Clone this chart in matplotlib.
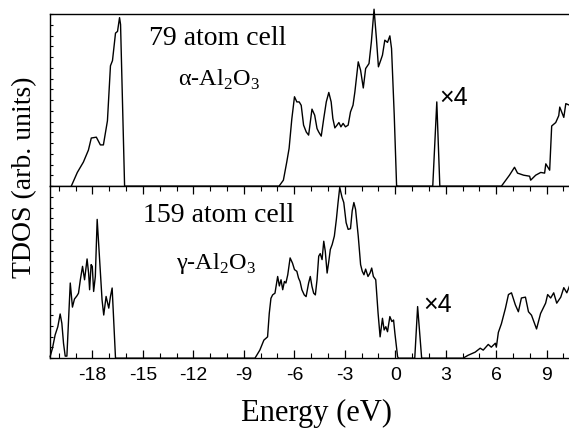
import numpy as np
import matplotlib
matplotlib.use("Agg")
import matplotlib.pyplot as plt
from matplotlib.ticker import MultipleLocator, NullFormatter

# alpha-Al2O3, 79 atom cell (top panel)
alpha_e = [-19.26, -18.9, -18.54, -18.24, -18.07, -17.77, -17.53, -17.35, -17.11,
           -16.93, -16.81, -16.63, -16.51, -16.39, -16.33, -16.09,
           -6.91, -6.65, -6.45, -6.31, -6.15, -5.99, -5.85, -5.71, -5.59, -5.45,
           -5.29, -5.15, -4.95, -4.79, -4.65, -4.55, -4.40, -4.25, -4.10, -3.95,
           -3.81, -3.71, -3.59, -3.46, -3.35, -3.23, -3.10, -2.96, -2.80, -2.66,
           -2.51, -2.40, -2.20, -2.06, -1.90, -1.76, -1.56, -1.42, -1.26, -1.12,
           -1.00, -0.86, -0.76, -0.62, -0.46, -0.32, -0.22, -0.06, 0.08, 0.20,
           2.23, 2.47, 2.65,
           6.31, 6.79, 7.09, 7.27, 7.63, 7.99, 8.05, 8.35, 8.65, 8.88, 8.95, 9.18,
           9.30, 9.54, 9.72, 9.78, 10.02, 10.14, 10.38, 10.56]
alpha_d = [0.0, 0.08, 0.14, 0.21, 0.28, 0.285, 0.24, 0.24, 0.38,
           0.70, 0.73, 0.89, 0.90, 0.98, 0.94, 0.0,
           0.0, 0.035, 0.14, 0.22, 0.39, 0.52, 0.49, 0.49, 0.47, 0.355,
           0.315, 0.297, 0.448, 0.413, 0.335, 0.315, 0.291, 0.394, 0.49, 0.545,
           0.49, 0.394, 0.339, 0.355, 0.37, 0.345, 0.365, 0.345, 0.355, 0.432,
           0.471, 0.548, 0.723, 0.674, 0.571, 0.684, 0.713, 0.839, 1.029, 0.859,
           0.694, 0.733, 0.762, 0.849, 0.836, 0.874, 0.80, 0.413, 0.002, 0.0,
           0.0, 0.49, 0.0,
           0.0, 0.064, 0.11, 0.076, 0.064, 0.058, 0.035, 0.064, 0.08, 0.076, 0.13, 0.093,
           0.35, 0.37, 0.41, 0.46, 0.40, 0.48, 0.47, 0.41]

# gamma-Al2O3, 159 atom cell (bottom panel)
gamma_e = [-20.52, -20.38, -20.22, -20.06, -19.92, -19.82, -19.72, -19.62, -19.52,
           -19.43, -19.32, -19.19, -19.07, -18.92, -18.83, -18.72, -18.59, -18.47,
           -18.32, -18.23, -18.17, -18.08, -18.01, -17.93, -17.83, -17.72, -17.59,
           -17.43, -17.33, -17.19, -17.03, -16.93, -16.83, -16.73, -16.63,
           -8.34, -8.05, -7.81, -7.69, -7.59, -7.49, -7.39, -7.29, -7.15, -6.99,
           -6.89, -6.79, -6.69, -6.59, -6.50, -6.39, -6.25, -6.11, -5.99, -5.85,
           -5.75, -5.66, -5.55, -5.41, -5.30, -5.15, -5.05, -4.95, -4.85, -4.75,
           -4.65, -4.55, -4.46, -4.35, -4.25, -4.16, -4.05, -3.95, -3.86, -3.75,
           -3.62, -3.50, -3.40, -3.30, -3.16, -3.06, -2.92, -2.80, -2.66, -2.56,
           -2.46, -2.36, -2.20, -2.06, -1.96, -1.86, -1.76, -1.62, -1.50, -1.40,
           -1.30, -1.16, -1.02, -0.90, -0.76, -0.66, -0.56, -0.46, -0.32, -0.20,
           -0.10, -0.02, 0.14, 0.20,
           1.16, 1.33, 1.57,
           4.03, 4.33, 4.75, 5.05, 5.23, 5.53, 5.71, 5.95, 6.01, 6.13, 6.31, 6.55,
           6.73, 6.91, 7.14, 7.32, 7.50, 7.74, 7.92, 8.10, 8.40, 8.64, 8.94, 9.06,
           9.24, 9.42, 9.60, 9.84, 10.02, 10.20, 10.44, 10.56]
gamma_d = [0.008, 0.057, 0.135, 0.183, 0.257, 0.203, 0.086, 0.012, 0.012,
           0.203, 0.437, 0.297, 0.344, 0.363, 0.378, 0.456, 0.534, 0.456,
           0.577, 0.495, 0.398, 0.544, 0.534, 0.388, 0.475, 0.807, 0.593,
           0.339, 0.251, 0.359, 0.291, 0.359, 0.408, 0.203, 0.0,
           0.0, 0.047, 0.105, 0.115, 0.124, 0.26, 0.348, 0.368, 0.378, 0.475,
           0.42, 0.456, 0.398, 0.446, 0.437, 0.485, 0.583, 0.553, 0.515, 0.505,
           0.466, 0.446, 0.398, 0.368, 0.358, 0.437, 0.475, 0.417, 0.378, 0.368,
           0.456, 0.593, 0.608, 0.573, 0.68, 0.622, 0.495, 0.563, 0.632, 0.661,
           0.71, 0.807, 0.905, 0.993, 0.934, 0.905, 0.788, 0.749, 0.753, 0.856,
           0.905, 0.866, 0.71, 0.544, 0.505, 0.485, 0.518, 0.475, 0.495, 0.524,
           0.475, 0.456, 0.261, 0.124, 0.232, 0.164, 0.183, 0.154, 0.242, 0.213,
           0.222, 0.144, 0.008, 0.0,
           0.0, 0.30, 0.0,
           0.0, 0.017, 0.035, 0.058, 0.047, 0.08, 0.064, 0.087, 0.064, 0.15, 0.20, 0.29,
           0.37, 0.38, 0.31, 0.27, 0.35, 0.355, 0.27, 0.25, 0.17, 0.26, 0.32, 0.37,
           0.35, 0.38, 0.32, 0.355, 0.41, 0.38, 0.44, 0.47]

xticks = [-18, -15, -12, -9, -6, -3, 0, 3, 6, 9]

serif = "Liberation Serif"
sans = "Liberation Sans"

fig = plt.figure(figsize=(5.69, 4.30), dpi=100)
ax1 = fig.add_axes([0.088, 0.567, 0.92, 0.40])
ax2 = fig.add_axes([0.088, 0.167, 0.92, 0.40], sharex=ax1)

for ax, e, d in [(ax1, alpha_e, alpha_d), (ax2, gamma_e, gamma_d)]:
    ax.plot(e, d, color="black", lw=1.0, clip_on=False)
    ax.set_ylim(0, 1)
    ax.set_xlim(-20.52, 10.6)
    ax.spines["right"].set_visible(False)
    ax.yaxis.set_major_locator(MultipleLocator(1 / 16))
    ax.yaxis.set_major_formatter(NullFormatter())
    ax.tick_params(axis="y", direction="in", length=2.5, width=0.8)
    for s in ax.spines.values():
        s.set_linewidth(1.0)

ax1.tick_params(axis="x", bottom=False, labelbottom=False, top=False)
ax2.xaxis.set_minor_locator(MultipleLocator(1))
ax2.set_xticks(xticks)
ax2.set_xticklabels([str(t) for t in xticks], fontfamily=sans, fontsize=14)
ax2.tick_params(axis="x", which="major", direction="in", length=6, width=0.9,
                top=True, pad=6)
ax2.tick_params(axis="x", which="minor", direction="in", length=3.5, width=0.8,
                top=True)

sub = r"$\mathregular{%s}$-Al$_\mathregular{2}$O$_\mathregular{3}$"
ax1.text(-14.65, 0.86, "79 atom cell", family=serif, fontsize=20, va="center")
ax1.text(-12.9, 0.62, sub % r"\alpha", family=serif, fontsize=17.5, va="center")
ax1.text(2.6, 0.51, "\u00d74", family=sans, fontsize=18, va="center")

ax2.text(-15.0, 0.83, "159 atom cell", family=serif, fontsize=20, va="center")
ax2.text(-13.05, 0.55, sub % r"\gamma", family=serif, fontsize=17.5, va="center")
ax2.text(1.65, 0.31, "\u00d74", family=sans, fontsize=18, va="center")

fig.text(0.557, 0.038, "Energy (eV)", family=serif, fontsize=22, ha="center",
         va="center")
fig.text(0.044, 0.587, "TDOS (arb. units)", family=serif, fontsize=20,
         rotation=90, ha="center", va="center")

fig.savefig("out.png", dpi=100)
